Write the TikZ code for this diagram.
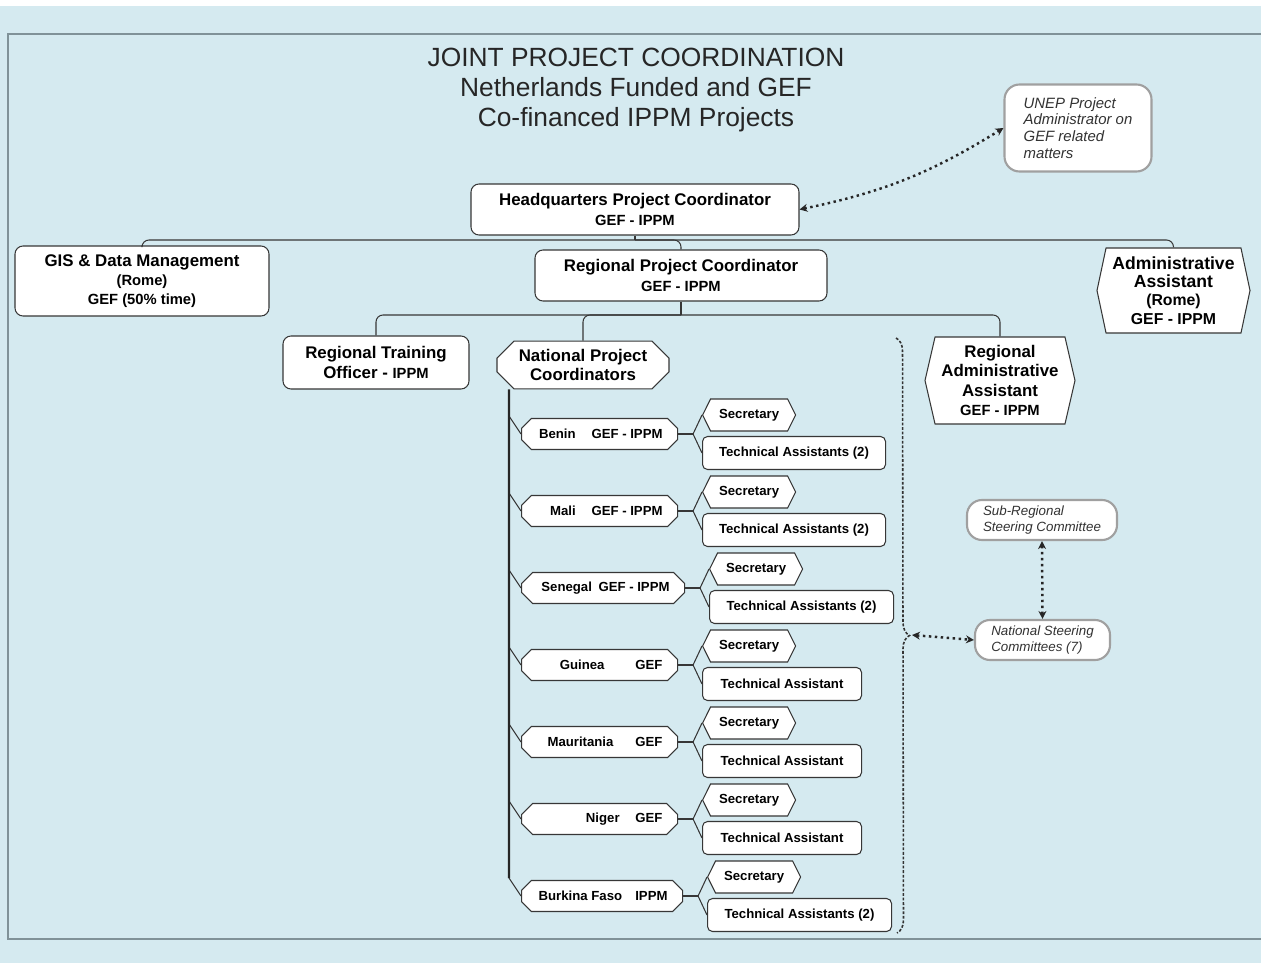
\documentclass[tikz,border=0pt]{standalone}
\usepackage{fontspec}
\setmainfont{Liberation Sans}
\usetikzlibrary{positioning}
\usetikzlibrary{shapes.misc}
\usetikzlibrary{shapes.symbols}
\usetikzlibrary{arrows.meta}
\usetikzlibrary{decorations.pathreplacing}
\definecolor{panelblue}{RGB}{213,234,240}
\definecolor{panelline}{RGB}{128,146,152}
\definecolor{boxline}{RGB}{55,55,55}
\definecolor{softline}{RGB}{160,160,160}
\definecolor{softtext}{RGB}{50,50,50}
\newcommand\bigtext{\fontsize{9.6}{11}\selectfont\bfseries}
\newcommand\subline{\fontsize{8.4}{10}\selectfont}
\newcommand\rowtext{\fontsize{7.5}{9}\selectfont\bfseries}
\tikzset{
  px/.style={x=0.02cm,y=-0.02cm},
  boxsize/.style 2 args={minimum width=#1*0.02cm, minimum height=#2*0.02cm},
  roundbox/.style={draw=boxline, fill=white, rounded corners=0.16cm, line width=0.6pt, align=center, inner sep=0pt, font=\bigtext},
  hexbox/.style={draw=boxline, fill=white, signal, signal to=west and east, line width=0.6pt, align=center, inner sep=0pt, font=\bigtext},
  cutbox/.style={draw=boxline, fill=white, chamfered rectangle, line width=0.6pt, align=center, inner sep=0pt, font=\bigtext},
  softbox/.style={draw=softline, fill=white, rounded corners=0.3cm, line width=1.2pt, align=left, inner sep=0pt, text=softtext},
  conn/.style={draw=boxline, line width=0.6pt, rounded corners=0.14cm},
  spine/.style={draw=black!85, line width=1.2pt},
  dotlink/.style={black!85, line width=1.4pt, dotted, {Stealth[length=0.16cm,width=0.16cm]}-{Stealth[length=0.16cm,width=0.16cm]}},
}
\begin{document}
\begin{tikzpicture}[px]
\useasboundingbox (0,0) rectangle (1261,963);
% background and panel
\fill[panelblue] (0,6) rectangle (1261,963);
\draw[panelline, line width=1pt] (1261,34) -- (8,34) -- (8,939) -- (1261,939);

\node[align=center, font=\fontsize{15}{17}\selectfont, text=black!85] (title) at (636,90)
  {JOINT PROJECT COORDINATION\\Netherlands Funded and GEF\\Co-financed IPPM Projects};

\node[roundbox, boxsize={328}{51}] (hq) at (635,209.5) {Headquarters Project Coordinator\\\subline GEF - IPPM};
\node[softbox, boxsize={147}{87}, font=\fontsize{8.5}{9.5}\selectfont\itshape] (unep) at (1078,128)
  {UNEP Project\\Administrator on\\GEF related\\matters};
\node[roundbox, boxsize={254}{70}] (gis) at (142,281) {GIS \& Data Management\\\subline (Rome)\\\subline GEF (50\% time)};
\node[roundbox, boxsize={292}{51}] (rpc) at (681,275.5) {Regional Project Coordinator\\\subline GEF - IPPM};
\node[hexbox, boxsize={153}{85}, signal pointer angle=156, font=\fontsize{10}{10.4}\selectfont\bfseries] (adm) at (1173.5,290.5)
  {Administrative\\Assistant\\\fontsize{9}{10.4}\selectfont (Rome)\\\fontsize{9}{10.4}\selectfont GEF - IPPM};
\node[roundbox, boxsize={186}{53}] (rto) at (376,362.5) {Regional Training\\Officer - {\subline IPPM}};
\node[cutbox, boxsize={172}{46}, chamfered rectangle xsep=0.18cm, chamfered rectangle ysep=0.16cm] (npc) at (583,365)
  {National Project\\Coordinators};
\node[hexbox, boxsize={150}{87}, signal pointer angle=154] (raa) at (1000,380.5)
  {Regional\\Administrative\\Assistant\\\subline GEF - IPPM};

\node[softbox, boxsize={150}{40}, font=\fontsize{7.6}{8.8}\selectfont\itshape] (srsc) at (1042,520)
  {Sub-Regional\\Steering Committee};
\node[softbox, boxsize={135}{40}, font=\fontsize{7.6}{8.8}\selectfont\itshape] (nsc) at (1042.5,640)
  {National Steering\\Committees (7)};

% country rows
\foreach \n/\lab/\yc/\bw/\tal/\taw in {
  benin/{Benin\hspace{1.2em}GEF - IPPM}/434/156/{Technical Assistants (2)}/183,
  mali/{Mali\hspace{1.2em}GEF - IPPM}/511/156/{Technical Assistants (2)}/183,
  senegal/{Senegal\hspace{0.5em}GEF - IPPM}/588/163/{Technical Assistants (2)}/184,
  guinea/{Guinea\hspace{2.35em}GEF}/665/156/{Technical Assistant}/159,
  mauritania/{Mauritania\hspace{1.67em}GEF}/742/156/{Technical Assistant}/159,
  niger/{Niger\hspace{1.2em}GEF}/819/156/{Technical Assistant}/159,
  burkina/{Burkina Faso\hspace{1em}IPPM}/896/161/{Technical Assistants (2)}/184}{
  \pgfmathsetmacro\tw{(\bw-30)*0.02}
  \node[cutbox, font=\rowtext, boxsize={\bw}{31}, chamfered rectangle xsep=0.12cm, chamfered rectangle ysep=0.1cm,
    anchor=west] (\n) at (521,\yc) {\makebox[\tw cm][r]{\lab}};
  \node[hexbox, font=\rowtext, boxsize={93}{32}, signal pointer angle=127, anchor=west] (\n-sec) at (521+\bw+25,\yc-19) {Secretary};
  \node[roundbox, rounded corners=0.1cm, font=\rowtext, boxsize={\taw}{33}, anchor=west] (\n-ta) at (521+\bw+25,\yc+19) {\tal};
  \coordinate (\n-s) at (509,\yc-18);
  \path (\n.east) ++(15,0) coordinate (\n-j);
  \draw[conn] (\n.east) -- (\n-j);
  \draw[conn] (\n-j) -- (\n-sec.west);
  \draw[conn] (\n-j) -- (\n-ta.west);
  \draw[conn] (\n-s) -- (\n.west);
}

% reporting lines
\coordinate (hqbus) at (635,240);
\draw[conn] (hq.south) -- (hqbus);
\draw[conn] (gis.north) |- (hqbus) -| (adm.north);
\draw[conn] (hqbus) -| (rpc.north);
\coordinate (rpcbus) at (681,315);
\draw[conn] (rpc.south) -- (rpcbus);
\draw[conn] (rto.north) |- (rpcbus) -| (raa.north);
\draw[conn] (rpcbus) -| (npc.north);
\draw[spine] ([xshift=-1.48cm]npc.south) -- (burkina-s);

% brace and dotted links
\coordinate (brtop) at (896,338);
\coordinate (brbot) at (897,933);
\coordinate (brtip) at (912,635);
\draw[decorate, decoration={brace, amplitude=0.26cm}, black!80, dash pattern=on 1.6pt off 1pt, line width=0.9pt] (brtop) -- (brbot);
\draw[dotlink] (hq.east) to[bend right=10] (unep.west);
\draw[dotlink] (srsc.south) -- (nsc.north);
\draw[dotlink] (brtip) -- (nsc.west);
\end{tikzpicture}
\end{document}
